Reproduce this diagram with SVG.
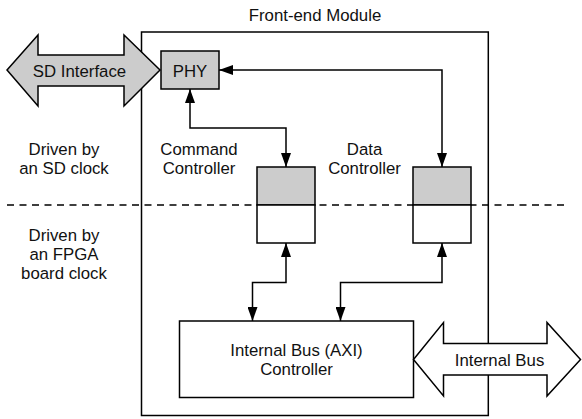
<svg xmlns="http://www.w3.org/2000/svg" width="582" height="419" viewBox="0 0 582 419">
  <defs>
    <marker id="ah" viewBox="0 0 14 10" refX="14" refY="5" markerWidth="14" markerHeight="10" markerUnits="userSpaceOnUse" orient="auto-start-reverse">
      <path d="M0,0 L14,5 L0,10 Z" fill="#000"/>
    </marker>
    <style>
      .box { fill: #fff; stroke: #000; stroke-width: 1.5; }
      .frame { fill: none; stroke: #000; stroke-width: 1.5; }
      .gray { fill: #cccccc; stroke: #000; stroke-width: 1.5; }
      .wire { fill: none; stroke: #000; stroke-width: 1.5; }
      .lbl { font-family: "Liberation Sans", Arial, sans-serif; font-size: 16.8px; fill: #111; text-anchor: middle; }
    </style>
  </defs>

  <rect width="582" height="419" fill="#fff"/>

  <!-- clock domain boundary -->
  <line x1="7" y1="205" x2="566" y2="205" stroke="#000" stroke-width="1.5" stroke-dasharray="7,5.5"/>

  <!-- front-end module container -->
  <g id="module">
    <rect class="frame" x="141.5" y="32" width="346.8" height="383.5"/>
    <text class="lbl" x="315" y="20.5">Front-end Module</text>
  </g>

  <!-- external SD interface -->
  <g id="sd-interface">
    <polygon class="gray" points="7,70 38,35 38,55 124,55 124,35 160,70 124,106 124,86 38,86 38,106"/>
    <text class="lbl" x="79.5" y="76.5">SD Interface</text>
  </g>

  <g id="phy">
    <rect class="gray" x="161" y="51" width="58" height="38"/>
    <text class="lbl" x="190" y="77">PHY</text>
  </g>

  <g id="cmd-buffer">
    <rect class="gray" x="257" y="167" width="58" height="38"/>
    <rect class="box" x="257" y="205" width="58" height="38"/>
    <text class="lbl" x="199" y="155">Command</text>
    <text class="lbl" x="199" y="173.5">Controller</text>
  </g>

  <g id="data-buffer">
    <rect class="gray" x="413" y="167" width="58" height="38"/>
    <rect class="box" x="413" y="205" width="58" height="38"/>
    <text class="lbl" x="364.5" y="155">Data</text>
    <text class="lbl" x="364.5" y="173.5">Controller</text>
  </g>

  <g id="axi">
    <rect class="box" x="179.5" y="321" width="234" height="76.5"/>
    <text class="lbl" x="296.5" y="356">Internal Bus (AXI)</text>
    <text class="lbl" x="296.5" y="375">Controller</text>
  </g>

  <!-- external internal-bus port -->
  <g id="internal-bus">
    <polygon class="box" points="413.5,359.5 443.5,322.5 443.5,343.5 547,343.5 547,322.5 580.5,359.5 547,396 547,375 443.5,375 443.5,396"/>
    <text class="lbl" x="499.5" y="365.5">Internal Bus</text>
  </g>

  <g id="clock-labels">
    <text class="lbl" x="64" y="155">Driven by</text>
    <text class="lbl" x="64" y="173.5">an SD clock</text>
    <text class="lbl" x="64" y="241">Driven by</text>
    <text class="lbl" x="64" y="260">an FPGA</text>
    <text class="lbl" x="64" y="278.5">board clock</text>
  </g>

  <g id="connectors">
    <polyline class="wire" points="190,89 190,128 286,128 286,167" marker-start="url(#ah)" marker-end="url(#ah)"/>
    <polyline class="wire" points="219,70 442,70 442,167" marker-start="url(#ah)" marker-end="url(#ah)"/>
    <polyline class="wire" points="286,243 286,282.5 252.5,282.5 252.5,321" marker-start="url(#ah)" marker-end="url(#ah)"/>
    <polyline class="wire" points="442,243 442,282.5 340.5,282.5 340.5,321" marker-start="url(#ah)" marker-end="url(#ah)"/>
  </g>
</svg>
